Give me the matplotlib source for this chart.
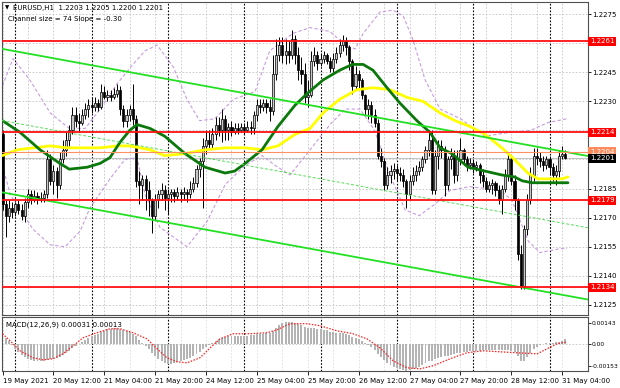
import numpy as np
import matplotlib
matplotlib.use("Agg")
import matplotlib.pyplot as plt
from matplotlib.patches import Rectangle
from matplotlib.collections import PatchCollection
from matplotlib.transforms import blended_transform_factory

# ---------------- data (EURUSD H1, 19 May 20:00 .. 31 May 05:00) ----------------
open0 = 1.2213
close = [1.2177, 1.2171, 1.2175, 1.2173, 1.2177, 1.2174, 1.2171, 1.2178, 1.2182, 1.2179,
         1.2181, 1.2179, 1.2180, 1.2182, 1.2200, 1.2189, 1.2194, 1.2187, 1.2200, 1.2205,
         1.2210, 1.2215, 1.2223, 1.2220, 1.2219, 1.2223, 1.2226, 1.2228, 1.2227, 1.2229,
         1.2227, 1.2235, 1.2232, 1.2233, 1.2232, 1.2234, 1.2236, 1.2226, 1.2220, 1.2223,
         1.2226, 1.2221, 1.2189, 1.2187, 1.2190, 1.2184, 1.2179, 1.2171, 1.2179, 1.2182,
         1.2184, 1.2180, 1.2182, 1.2183, 1.2181, 1.2183, 1.2182, 1.2183, 1.2182, 1.2185,
         1.2188, 1.2195, 1.2199, 1.2207, 1.2210, 1.2208, 1.2213, 1.2218, 1.2215, 1.2221,
         1.2215, 1.2217, 1.2214, 1.2216, 1.2215, 1.2217, 1.2215, 1.2217, 1.2216, 1.2223,
         1.2228, 1.2227, 1.2229, 1.2227, 1.2225, 1.2244, 1.2254, 1.2259, 1.2254, 1.2256,
         1.2254, 1.2262, 1.2254, 1.2246, 1.2244, 1.2232, 1.2233, 1.2251, 1.2254, 1.2250,
         1.2252, 1.2254, 1.2251, 1.2247, 1.2252, 1.2255, 1.2259, 1.2261, 1.2258, 1.2251,
         1.2238, 1.2244, 1.2241, 1.2233, 1.2226, 1.2228, 1.2223, 1.2219, 1.2202, 1.2199,
         1.2187, 1.2192, 1.2194, 1.2195, 1.2193, 1.2192, 1.2189, 1.2182, 1.2189, 1.2192,
         1.2194, 1.2196, 1.2200, 1.2205, 1.2210, 1.2184, 1.2202, 1.2207, 1.2205, 1.2187,
         1.2200, 1.2202, 1.2192, 1.2200, 1.2205, 1.2200, 1.2197, 1.2198, 1.2196, 1.2197,
         1.2192, 1.2189, 1.2185, 1.2187, 1.2188, 1.2184, 1.2179, 1.2185, 1.2192, 1.2200,
         1.2189, 1.2179, 1.2151, 1.2135, 1.2164, 1.2179, 1.2192, 1.2202, 1.2201, 1.2199,
         1.2197, 1.2200, 1.2196, 1.2192, 1.2194, 1.2202, 1.2203, 1.2201]
high = [1.2215, 1.2179, 1.2179, 1.2178, 1.2178, 1.2179, 1.2177, 1.2180, 1.2185, 1.2184,
        1.2184, 1.2183, 1.2183, 1.2184, 1.2205, 1.2203, 1.2197, 1.2196, 1.2204, 1.2210,
        1.2214, 1.2218, 1.2227, 1.2227, 1.2224, 1.2226, 1.2229, 1.2231, 1.2232, 1.2232,
        1.2231, 1.2239, 1.2238, 1.2236, 1.2236, 1.2237, 1.2239, 1.2238, 1.2228, 1.2226,
        1.2228, 1.2239, 1.2223, 1.2194, 1.2192, 1.2192, 1.2189, 1.2180, 1.2182, 1.2184,
        1.2188, 1.2187, 1.2185, 1.2185, 1.2185, 1.2186, 1.2185, 1.2186, 1.2185, 1.2189,
        1.2191, 1.2197, 1.2201, 1.2211, 1.2215, 1.2215, 1.2216, 1.2222, 1.2222, 1.2226,
        1.2223, 1.2219, 1.2220, 1.2219, 1.2219, 1.2219, 1.2219, 1.2220, 1.2220, 1.2225,
        1.2231, 1.2231, 1.2231, 1.2231, 1.2231, 1.2254, 1.2262, 1.2263, 1.2263, 1.2262,
        1.2261, 1.2267, 1.2264, 1.2258, 1.2253, 1.2250, 1.2241, 1.2256, 1.2258, 1.2256,
        1.2255, 1.2256, 1.2255, 1.2253, 1.2255, 1.2258, 1.2262, 1.2264, 1.2263, 1.2259,
        1.2252, 1.2248, 1.2246, 1.2242, 1.2234, 1.2231, 1.2230, 1.2226, 1.2221, 1.2206,
        1.2201, 1.2196, 1.2197, 1.2198, 1.2197, 1.2196, 1.2195, 1.2190, 1.2192, 1.2196,
        1.2197, 1.2199, 1.2202, 1.2207, 1.2215, 1.2215, 1.2205, 1.2210, 1.2210, 1.2207,
        1.2202, 1.2206, 1.2205, 1.2205, 1.2211, 1.2206, 1.2202, 1.2201, 1.2200, 1.2199,
        1.2198, 1.2195, 1.2191, 1.2189, 1.2190, 1.2189, 1.2187, 1.2187, 1.2195, 1.2203,
        1.2202, 1.2192, 1.2180, 1.2156, 1.2166, 1.2182, 1.2196, 1.2206, 1.2206, 1.2204,
        1.2202, 1.2202, 1.2202, 1.2198, 1.2197, 1.2205, 1.2207, 1.2205]
low = [1.2174, 1.2160, 1.2168, 1.2170, 1.2171, 1.2172, 1.2169, 1.2168, 1.2175, 1.2177,
       1.2178, 1.2177, 1.2178, 1.2178, 1.2180, 1.2187, 1.2182, 1.2180, 1.2185, 1.2198,
       1.2202, 1.2207, 1.2213, 1.2217, 1.2214, 1.2218, 1.2221, 1.2222, 1.2224, 1.2225,
       1.2225, 1.2226, 1.2231, 1.2230, 1.2230, 1.2231, 1.2232, 1.2223, 1.2217, 1.2217,
       1.2220, 1.2218, 1.2186, 1.2177, 1.2179, 1.2174, 1.2171, 1.2162, 1.2169, 1.2175,
       1.2179, 1.2174, 1.2172, 1.2178, 1.2178, 1.2179, 1.2178, 1.2179, 1.2178, 1.2180,
       1.2183, 1.2186, 1.2191, 1.2175, 1.2203, 1.2206, 1.2206, 1.2210, 1.2212, 1.2209,
       1.2210, 1.2210, 1.2212, 1.2213, 1.2213, 1.2214, 1.2213, 1.2214, 1.2213, 1.2213,
       1.2220, 1.2224, 1.2225, 1.2224, 1.2220, 1.2223, 1.2241, 1.2251, 1.2250, 1.2249,
       1.2250, 1.2252, 1.2249, 1.2241, 1.2239, 1.2229, 1.2227, 1.2232, 1.2248, 1.2246,
       1.2248, 1.2250, 1.2249, 1.2245, 1.2245, 1.2250, 1.2253, 1.2256, 1.2254, 1.2246,
       1.2234, 1.2236, 1.2237, 1.2231, 1.2223, 1.2221, 1.2219, 1.2217, 1.2200, 1.2196,
       1.2184, 1.2185, 1.2188, 1.2190, 1.2189, 1.2189, 1.2186, 1.2175, 1.2179, 1.2187,
       1.2189, 1.2192, 1.2194, 1.2198, 1.2202, 1.2182, 1.2182, 1.2195, 1.2201, 1.2181,
       1.2184, 1.2195, 1.2188, 1.2189, 1.2197, 1.2197, 1.2194, 1.2195, 1.2193, 1.2194,
       1.2188, 1.2186, 1.2183, 1.2183, 1.2182, 1.2181, 1.2177, 1.2172, 1.2183, 1.2189,
       1.2187, 1.2174, 1.2148, 1.2133, 1.2133, 1.2161, 1.2177, 1.2189, 1.2197, 1.2196,
       1.2194, 1.2195, 1.2192, 1.2189, 1.2187, 1.2191, 1.2200, 1.2200]

# moving averages (bar index, price)
ma_green_idx = [0, 5.5, 11.8, 18, 21, 26.6, 30.7, 33.8, 37, 40, 42.3, 46.4, 51, 57.4, 63.7, 70, 73,
                76.3, 81.6, 86.6, 92, 95.8, 100.8, 106, 110, 113.4, 116.5, 120.9, 125, 130.3,
                134.4, 137.6, 141.3, 146.4, 151.7, 157, 161, 163.4, 166.5, 170.6, 174.7, 177.8]
ma_green = [1.2220, 1.2214, 1.2205, 1.2198, 1.2195, 1.2196, 1.2198, 1.2201, 1.2209, 1.2215, 1.2218,
            1.2216, 1.2212, 1.2203, 1.2196, 1.2193, 1.2194, 1.2198, 1.2205, 1.2217, 1.2228, 1.2234,
            1.2241, 1.2246, 1.2249, 1.2249, 1.2246, 1.2237, 1.2229, 1.2220, 1.2214, 1.2206, 1.2203,
            1.2196, 1.2194, 1.2192, 1.2191, 1.2189, 1.2188, 1.2188, 1.2188, 1.2188]
ma_yellow_idx = [0, 4.6, 15, 20.3, 30.7, 36, 40, 43.2, 46.4, 51, 57.4, 63.7, 70, 76.3, 81.6, 86.6,
                 92, 96.7, 100.8, 106, 111.5, 116.5, 121.8, 127.2, 132.2, 137.6, 142.3, 147,
                 151.7, 157, 161, 165.2, 168.4, 172.8, 176, 177.8]
ma_yellow = [1.2202, 1.2205, 1.2207, 1.2206, 1.2206, 1.2207, 1.2207, 1.2206, 1.2205, 1.2202, 1.2203,
             1.2205, 1.2206, 1.2206, 1.2205, 1.2207, 1.2213, 1.2216, 1.2224, 1.2231, 1.2236, 1.2237,
             1.2236, 1.2232, 1.2230, 1.2224, 1.2220, 1.2217, 1.2213, 1.2206, 1.2200, 1.2193, 1.2190,
             1.2190, 1.2190, 1.2191]
bb_up_idx = [0, 3.3, 8.6, 15, 21, 26, 30.7, 36, 41, 44.8, 48.6, 53.6, 58, 62, 66.8, 72.5, 79.4, 84,
             91.3, 96.7, 103, 107.7, 110.9, 113.4, 118.7, 122.8, 126, 129, 132.9, 137.6, 144,
             151.7, 159.6, 166, 171.5, 177.5]
bb_up = [1.2238, 1.2252, 1.2241, 1.2224, 1.2216, 1.2216, 1.2226, 1.2239, 1.2249, 1.2256, 1.2259,
         1.2248, 1.2231, 1.2220, 1.2221, 1.2231, 1.2235, 1.2256, 1.2265, 1.2268, 1.2266, 1.2259,
         1.2257, 1.2265, 1.2276, 1.2277, 1.2274, 1.2262, 1.2241, 1.2226, 1.2221, 1.2212, 1.2214,
         1.2215, 1.2219, 1.2221]
bb_lo_idx = [0, 2.4, 9.6, 15, 19.7, 24.4, 27.5, 33.8, 38.5, 42.3, 44.8, 49.5, 58, 64.3, 70, 76.3,
             81.6, 85.7, 90.4, 96.7, 103, 107.7, 112.4, 117, 121.8, 126.6, 131, 136, 140.7, 147,
             156.5, 160.2, 165.3, 169, 175.3, 177.5]
bb_lo = [1.2197, 1.2182, 1.2164, 1.2156, 1.2155, 1.2163, 1.2175, 1.2190, 1.2200, 1.2201, 1.2182,
         1.2165, 1.2155, 1.2168, 1.2187, 1.2197, 1.2202, 1.2197, 1.2192, 1.2205, 1.2218, 1.2226,
         1.2226, 1.2215, 1.2192, 1.2174, 1.2171, 1.2177, 1.2184, 1.2186, 1.2184, 1.2179, 1.2158,
         1.2152, 1.2154, 1.2154]

# regression channel
chan_upper_start = 1.2257   # upper line at the first bar
chan_slope_pips = -0.30     # pips per bar
chan_size_pips = 74

# horizontal levels
red_levels = [1.2261, 1.2214, 1.2179, 1.2134]
orange_level = 1.2204
bid = 1.2201

# MACD(12,26,9)
macd = [0.00048, 0.00041, 0.00021, -0.00007, -0.00034, -0.00055, -0.00076, -0.00089, -0.00103, -0.00110,
        -0.00117, -0.00117, -0.00117, -0.00117, -0.00110, -0.00103, -0.00103, -0.00096, -0.00089, -0.00076,
        -0.00062, -0.00048, -0.00028, -0.00014, 0.00000, 0.00014, 0.00028, 0.00041, 0.00055, 0.00062,
        0.00069, 0.00083, 0.00089, 0.00103, 0.00103, 0.00110, 0.00110, 0.00103, 0.00096, 0.00089,
        0.00083, 0.00069, 0.00055, 0.00028, 0.00007, -0.00014, -0.00034, -0.00062, -0.00083, -0.00103,
        -0.00117, -0.00131, -0.00138, -0.00138, -0.00131, -0.00124, -0.00117, -0.00110, -0.00103, -0.00096,
        -0.00083, -0.00069, -0.00055, -0.00034, -0.00021, -0.00007, 0.00007, 0.00021, 0.00034, 0.00041,
        0.00048, 0.00055, 0.00055, 0.00055, 0.00055, 0.00055, 0.00055, 0.00055, 0.00062, 0.00062,
        0.00069, 0.00069, 0.00069, 0.00076, 0.00076, 0.00089, 0.00110, 0.00131, 0.00144, 0.00151,
        0.00151, 0.00151, 0.00144, 0.00138, 0.00131, 0.00117, 0.00110, 0.00110, 0.00110, 0.00103,
        0.00103, 0.00096, 0.00096, 0.00083, 0.00083, 0.00076, 0.00076, 0.00076, 0.00069, 0.00062,
        0.00048, 0.00041, 0.00034, 0.00021, 0.00007, -0.00007, -0.00021, -0.00041, -0.00069, -0.00089,
        -0.00110, -0.00131, -0.00144, -0.00158, -0.00165, -0.00172, -0.00179, -0.00186, -0.00179, -0.00172,
        -0.00165, -0.00158, -0.00144, -0.00131, -0.00117, -0.00117, -0.00103, -0.00096, -0.00089, -0.00083,
        -0.00083, -0.00076, -0.00069, -0.00062, -0.00062, -0.00055, -0.00055, -0.00048, -0.00048, -0.00048,
        -0.00048, -0.00041, -0.00041, -0.00041, -0.00041, -0.00041, -0.00041, -0.00041, -0.00041, -0.00041,
        -0.00048, -0.00055, -0.00083, -0.00117, -0.00117, -0.00089, -0.00062, -0.00034, -0.00021, -0.00007,
        0.00000, 0.00007, 0.00007, 0.00007, 0.00014, 0.00014, 0.00021, 0.00031]
sig_idx = [0, 2.4, 5.5, 9.6, 12.7, 15.9, 19, 22.2, 25.3, 29.7, 33.8, 37, 41, 45.4, 48.6, 51.7, 54.9,
           58, 62.1, 65.3, 68.4, 72.5, 77.8, 83.2, 86.3, 90.4, 95.8, 99.8, 105.2, 110.2, 114.6,
           118.7, 122.8, 127.2, 131.3, 135.4, 140.7, 146, 151.1, 156.4, 161.8, 168.1, 170, 174.4, 177.5]
signal = [0.00069, 0.00021, -0.00048, -0.00096, -0.00110, -0.00103, -0.00069, -0.00014, 0.00041, 0.00076,
          0.00103, 0.00103, 0.00076, 0.00034, -0.00034, -0.00096, -0.00124, -0.00131, -0.00096, -0.00028,
          0.00034, 0.00069, 0.00069, 0.00076, 0.00096, 0.00138, 0.00138, 0.00124, 0.00089, 0.00069,
          0.00034, -0.00028, -0.00117, -0.00165, -0.00172, -0.00151, -0.00103, -0.00062, -0.00048, -0.00055,
          -0.00062, -0.00069, -0.00048, 0.00000, 0.00013]

time_labels = ["19 May 2021", "20 May 12:00", "21 May 04:00", "21 May 20:00", "24 May 12:00",
               "25 May 04:00", "25 May 20:00", "26 May 12:00", "27 May 04:00", "27 May 20:00",
               "28 May 12:00", "31 May 04:00"]
time_label_idx = [0, 16, 32, 48, 64, 80, 96, 112, 128, 144, 160, 176]
day_sep_idx = [4, 28, 52, 76, 100, 124, 148, 172]
price_ticks = [1.2275, 1.2245, 1.2230, 1.2185, 1.2170, 1.2155, 1.2140, 1.2125]
price_grid = [1.2125 + 0.0015 * k for k in range(11)]
macd_ticks = [0.00143, 0.0, -0.00153]
macd_tick_labels = ["0.00143", "0.00", "-0.00153"]

# ---------------- figure ----------------
W, H = 620, 388
fig = plt.figure(figsize=(W / 100, H / 100), dpi=100)
fig.patch.set_facecolor("white")


def rect(x0, y0, x1, y1):
    return [x0 / W, 1 - y1 / H, (x1 - x0) / W, (y1 - y0) / H]


ax = fig.add_axes(rect(2, 2, 588, 315))
axm = fig.add_axes(rect(2, 317, 588, 371), sharex=ax)

FS = 5.0
XL = (-0.16, 184.1)
ax.set_xlim(*XL)
ax.set_ylim(1.21198, 1.22812)

n = len(close)
xi = np.arange(n)
c = np.array(close)
o = np.concatenate([[open0], c[:-1]])
hi = np.maximum(np.array(high), np.maximum(o, c))
lo = np.minimum(np.array(low), np.minimum(o, c))

# grid
gridc = "#c4c4c4"
for p in price_grid:
    ax.axhline(p, color=gridc, lw=0.6, ls=(0, (2, 2)), zorder=0)
for v in range(0, 185, 8):
    ax.axvline(v, color=gridc, lw=0.6, ls=(0, (2, 2)), zorder=0)
    axm.axvline(v, color="#dddddd", lw=0.6, ls=(0, (2, 2)), zorder=0)
for d in day_sep_idx:
    ax.axvline(d, color="black", lw=0.8, ls=(0, (1.5, 1.5)), zorder=1)
    axm.axvline(d, color="black", lw=0.8, ls=(0, (1.5, 1.5)), zorder=1)

# bollinger-like envelopes
ax.plot(bb_up_idx, bb_up, color="#c79be0", lw=0.8, ls=(0, (3, 2)), zorder=2)
ax.plot(bb_lo_idx, bb_lo, color="#c79be0", lw=0.8, ls=(0, (3, 2)), zorder=2)

# candles
ax.vlines(xi, lo, hi, color="black", lw=0.7, zorder=3)
bw = 0.66
patches = []
fcs = []
for i in range(n):
    b = min(o[i], c[i])
    h = max(abs(c[i] - o[i]), 0.00003)
    patches.append(Rectangle((i - bw / 2, b), bw, h))
    fcs.append("#c8c8c8" if c[i] >= o[i] else "black")
pc = PatchCollection(patches, facecolors=fcs, edgecolors="black", linewidths=0.5, zorder=3)
ax.add_collection(pc)

# moving averages
ax.plot(ma_yellow_idx, ma_yellow, color="#ffff00", lw=2.0, zorder=4, solid_capstyle="round")
ax.plot(ma_green_idx, ma_green, color="#0a780a", lw=2.0, zorder=4, solid_capstyle="round")

# regression channel
cx = np.array([XL[0], XL[1]])
up_line = chan_upper_start + chan_slope_pips * 0.0001 * cx
ax.plot(cx, up_line, color="#22e022", lw=1.3, zorder=5)
ax.plot(cx, up_line - chan_size_pips * 0.0001, color="#22e022", lw=1.3, zorder=5)
ax.plot(cx, up_line - chan_size_pips * 0.0001 / 2, color="#55dd55", lw=0.7, ls=(0, (3, 2)), zorder=5)

# horizontal levels
for p in red_levels:
    ax.axhline(p, color="#ff1010", lw=1.3, zorder=6)
ax.axhline(orange_level, color="#ff9060", lw=0.8, zorder=6)
ax.axhline(bid, color="#b8b8b8", lw=0.6, zorder=1)

# right axis
ax.yaxis.tick_right()
ax.set_yticks(price_ticks)
ax.set_yticklabels([f"{p:.4f}" for p in price_ticks])
ax.tick_params(axis="y", labelsize=FS, length=2.5, width=0.6, pad=0.8, colors="black")
ax.tick_params(axis="x", bottom=False, labelbottom=False)
for s in ax.spines.values():
    s.set_color("#505050")
    s.set_linewidth(0.8)

trans = blended_transform_factory(ax.transAxes, ax.transData)
for p in red_levels:
    ax.text(1.003, p, f"{p:.4f}", transform=trans, va="center", ha="left", fontsize=FS,
            color="white", bbox=dict(boxstyle="square,pad=0.22", fc="#ff0000", ec="none"), zorder=10,
            clip_on=False)
ax.text(1.003, orange_level, f"{orange_level:.4f}", transform=trans, va="center", ha="left", fontsize=FS,
        color="white", bbox=dict(boxstyle="square,pad=0.22", fc="#ff8a5c", ec="none"), zorder=10, clip_on=False)
ax.text(1.003, bid - 0.00003, f"{bid:.4f}", transform=trans, va="center", ha="left", fontsize=FS,
        color="white", bbox=dict(boxstyle="square,pad=0.22", fc="black", ec="none"), zorder=11, clip_on=False)

# header texts
fig.text(5 / W, 1 - 8 / H, "\u25bc", fontsize=4, va="center", ha="left", color="black")
fig.text(13 / W, 1 - 8 / H, "EURUSD,H1  1.2203 1.2205 1.2200 1.2201", fontsize=FS, va="center", ha="left")
fig.text(8 / W, 1 - 19 / H, "Channel size = 74 Slope = -0.30", fontsize=FS, va="center", ha="left")

# ---------------- MACD panel ----------------
axm.set_ylim(-0.00187, 0.00184)
axm.axhline(0, color="#c4c4c4", lw=0.6, ls=(0, (2, 2)), zorder=0)
axm.bar(xi, macd, width=0.62, color="#b4b4b4", edgecolor="none", zorder=2)
axm.plot(sig_idx, signal, color="#ff2020", lw=0.9, ls=(0, (1.2, 1.2)), zorder=3)
axm.yaxis.tick_right()
axm.set_yticks(macd_ticks)
axm.set_yticklabels(macd_tick_labels)
axm.tick_params(axis="y", labelsize=4.3, length=2, width=0.6, pad=0.6)
axm.set_xticks(time_label_idx)
axm.set_xticklabels(time_labels, ha="left")
axm.tick_params(axis="x", labelsize=FS, length=3, width=0.6, pad=2)
for s in axm.spines.values():
    s.set_color("#505050")
    s.set_linewidth(0.8)
axm.text(0.006, 0.86, "MACD(12,26,9) 0.00031 0.00013", transform=axm.transAxes, fontsize=FS,
         va="center", ha="left")

fig.savefig("out.png", dpi=100, facecolor="white")
